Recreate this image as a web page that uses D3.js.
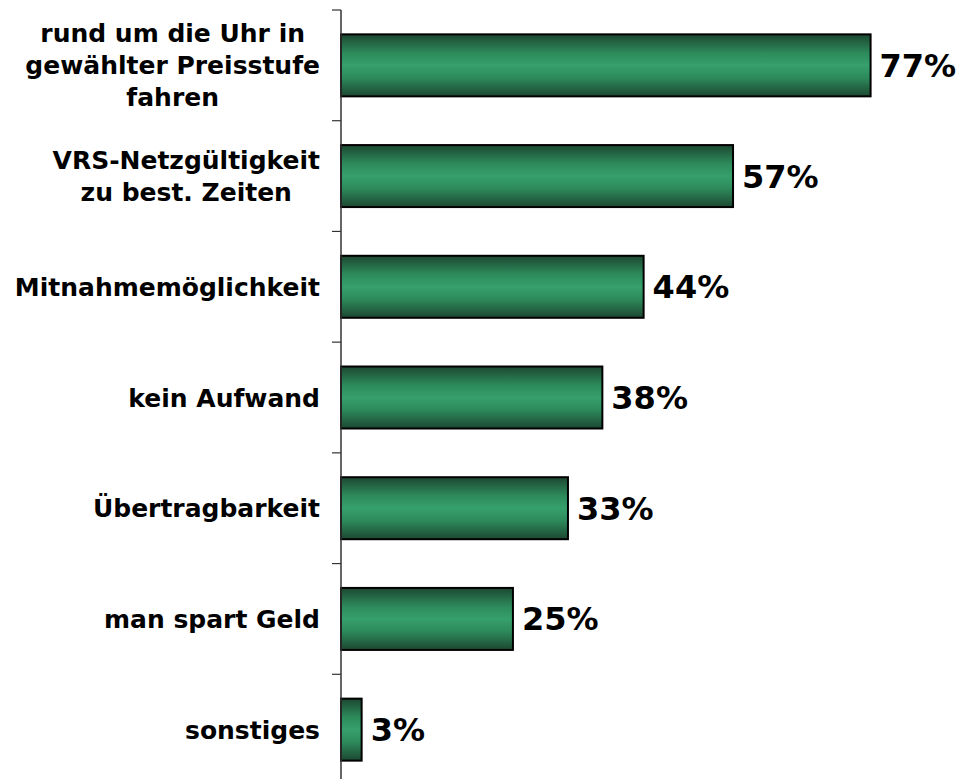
<!DOCTYPE html>
<html>
<head>
<meta charset="utf-8">
<script src="https://cdn.jsdelivr.net/npm/d3@7"></script>
<style>
  body { margin: 0; background: #fff; }
  text { font-family: Verdana, "DejaVu Sans", sans-serif; font-weight: bold; }
</style>
</head>
<body>
<div id="chart"></div>
<script>
// Data
const categories = [
  ['rund um die Uhr in', 'gewählter Preisstufe', 'fahren'],
  ['VRS-Netzgültigkeit', 'zu best. Zeiten'],
  ['Mitnahmemöglichkeit'],
  ['kein Aufwand'],
  ['Übertragbarkeit'],
  ['man spart Geld'],
  ['sonstiges']
];
const values = [77, 57, 44, 38, 33, 25, 3];

const width = 963, height = 779;
const axisX = 341;

const svg = d3.select('#chart')
  .append('svg')
  .attr('width', width)
  .attr('height', height);

// Gradient for bars
const grad = svg.append('defs').append('linearGradient')
  .attr('id', 'barGrad')
  .attr('x1', 0).attr('y1', 0).attr('x2', 0).attr('y2', 1);
[[0, '#1c4731'], [0.3, '#2d8a5b'], [0.5, '#36a06c'], [0.7, '#2d8a5b'], [1, '#1c4731']]
  .forEach(([o, c]) => grad.append('stop').attr('offset', o).attr('stop-color', c));

const idx = d3.range(values.length);

const x = d3.scaleLinear()
  .domain([0, 90])
  .range([axisX, axisX + 619]);

const y = d3.scaleBand()
  .domain(idx)
  .range([10, 785])
  .paddingInner(0.44)
  .paddingOuter(0.22);

// Band boundaries for ticks
const step = y.step();
const tickYs = d3.range(values.length + 1).map(i => 10 + i * step);

// Bars
svg.selectAll('.bar')
  .data(idx)
  .enter()
  .append('rect')
  .attr('class', 'bar')
  .attr('x', x(0))
  .attr('y', i => y(i))
  .attr('width', i => x(values[i]) - x(0))
  .attr('height', y.bandwidth())
  .attr('fill', 'url(#barGrad)')
  .attr('stroke', '#000')
  .attr('stroke-width', 2);

// Axis line and ticks
svg.append('line')
  .attr('x1', axisX).attr('x2', axisX)
  .attr('y1', 10).attr('y2', height)
  .attr('stroke', '#333')
  .attr('stroke-width', 1.5);

svg.selectAll('.tick')
  .data(tickYs)
  .enter()
  .append('line')
  .attr('x1', axisX - 9).attr('x2', axisX)
  .attr('y1', d => d).attr('y2', d => d)
  .attr('stroke', '#333')
  .attr('stroke-width', 1.2);

// Value labels
svg.selectAll('.val')
  .data(idx)
  .enter()
  .append('text')
  .attr('x', i => x(values[i]) + 9)
  .attr('y', i => y(i) + y.bandwidth() / 2)
  .attr('dy', '0.36em')
  .style('font-size', '32px')
  .style('fill', '#000')
  .text(i => values[i] + '%');

// Category labels: block right-aligned at labelRight, lines centred within block
const lineH = 32;
const labelRight = 320;
svg.selectAll('.cat')
  .data(idx)
  .enter()
  .append('text')
  .attr('text-anchor', 'middle')
  .style('font-size', '25px')
  .style('fill', '#000')
  .each(function(i) {
    const lines = categories[i];
    const cy = y(i) + y.bandwidth() / 2;
    const t = d3.select(this);
    const spans = lines.map((ln, k) => t.append('tspan')
      .attr('y', cy + (k - (lines.length - 1) / 2) * lineH)
      .attr('dy', '0.36em')
      .text(ln));
    const maxW = d3.max(spans, s => s.node().getComputedTextLength());
    spans.forEach(s => s.attr('x', labelRight - maxW / 2));
  });
</script>
</body>
</html>
